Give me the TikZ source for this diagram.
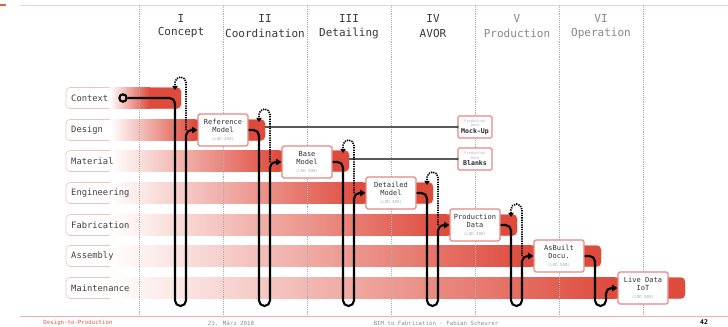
\documentclass[tikz,border=0pt]{standalone}
\usepackage{fontspec}
\setmainfont{DejaVu Sans Mono}
\setmonofont{DejaVu Sans Mono}
\usetikzlibrary{arrows.meta,calc}
\definecolor{barred}{RGB}{222,74,60}
\definecolor{rowborder}{RGB}{241,196,196}
\definecolor{boxborder}{RGB}{230,135,130}
\definecolor{hdrdark}{RGB}{55,55,55}
\definecolor{hdrlight}{RGB}{135,135,135}
\definecolor{lodgray}{RGB}{175,175,175}
\definecolor{colgray}{RGB}{175,175,175}
\definecolor{topline}{RGB}{244,205,215}
\definecolor{footred}{RGB}{225,85,75}
\definecolor{footgray}{RGB}{140,140,140}
\newcommand{\rowbar}[5]{%
  \draw[rowborder, line width=0.6pt, fill=white, rounded corners=0.12cm] (66,#1-10.5) rectangle (#3,#1+10.5);
  \fill[barred, rounded corners=0.12cm] (#2-10,#1-10.5) rectangle (#3,#1+10.5);
  \fill[left color=white, right color=barred] (110,#1-10.2) rectangle (#2,#1+10.2);
  \node[rowlbl] (#5) at (71,#1) {#4};
}
\begin{document}
\begin{tikzpicture}[x=0.03cm,y=-0.03cm,
  hdr/.style={font=\fontsize{9.4}{10}\selectfont, text=hdrdark, inner sep=0pt},
  hdrl/.style={hdr, text=hdrlight},
  rowlbl/.style={font=\fontsize{7.5}{8}\selectfont, text=black!75, anchor=west, inner sep=0pt},
  colline/.style={colgray, line width=0.6pt, dash pattern=on 0.8pt off 0.8pt},
  stagebox/.style={draw=boxborder, line width=1.1pt, fill=white, rounded corners=1.5pt,
    minimum width=1.5cm, minimum height=0.96cm, inner sep=0pt, align=center,
    font=\fontsize{6}{6.8}\selectfont, text=black!80},
  smallbox/.style={draw=boxborder, line width=1pt, fill=white, rounded corners=1.2pt,
    minimum width=1.02cm, minimum height=0.66cm, inner sep=0pt, align=center,
    font=\fontsize{3}{3.6}\selectfont, text=lodgray},
  flow/.style={draw=black, line width=1.8pt, rounded corners=0.165cm,
    -{Triangle[length=4.5pt,width=5.5pt]}},
  fback/.style={draw=black, line width=1.4pt, rounded corners=0.165cm,
    dash pattern=on 1.1pt off 0.9pt, -{Triangle[length=3.5pt,width=4.5pt]}},
  infoline/.style={draw=black!65, line width=0.9pt},
  foot/.style={font=\fontsize{4.9}{5}\selectfont, inner sep=0pt}
]
\useasboundingbox (0,0) rectangle (728,326);
% frame lines
\draw[topline, line width=0.8pt] (20,5) -- (728,5);
\draw[footred!80!orange, line width=1.2pt] (0,5) -- (6,5);
\draw[rowborder!90!red, line width=0.8pt] (20,316) -- (728,316);
% headers
\node[hdr] (h1a) at (181,18) {I};
\node[hdr] (h1b) at (181,33) {Concept};
\node[hdr] (h2a) at (265,18) {II};
\node[hdr] (h2b) at (265,33) {Coordination};
\node[hdr] (h3a) at (349,18) {III};
\node[hdr] (h3b) at (349,33) {Detailing};
\node[hdr] (h4a) at (433,18) {IV};
\node[hdr] (h4b) at (433,33) {AVOR};
\node[hdrl] (h5a) at (517,18) {V};
\node[hdrl] (h5b) at (517,33) {Production};
\node[hdrl] (h6a) at (601,18) {VI};
\node[hdrl] (h6b) at (601,33) {Operation};
% row bars
\rowbar{98}{150}{181}{Context}{lctx}
\rowbar{130}{195}{265}{Design}{ldes}
\rowbar{161}{279}{349}{Material}{lmat}
\rowbar{193}{363}{433}{Engineering}{leng}
\rowbar{225}{447}{517}{Fabrication}{lfab}
\rowbar{256}{531}{601}{Assembly}{lass}
\rowbar{288}{615}{685}{Maintenance}{lmai}
% column lines
\foreach \cx in {139,223,307,391,475,559,643}
  \draw[colline] (\cx,5) -- (\cx,316);
% side boxes
\node[smallbox] (mock) at (475,127) {Production\\Data\\[0.4pt]{\fontsize{5.6}{6}\selectfont\bfseries\color{black!85}Mock-Up}};
\node[smallbox] (blank) at (475,159) {Production\\Data\\[0.4pt]{\fontsize{5.6}{6}\selectfont\bfseries\color{black!85}Blanks}};
\coordinate (desEnd) at (265,130);
\coordinate (matEnd) at (349,161);
\draw[infoline] (desEnd |- mock.west) -- (mock.west);
\fill[black!70] (mock.west) circle (1.4);
\draw[infoline] (matEnd |- blank.west) -- (blank.west);
\fill[black!70] (blank.west) circle (1.4);
% stage boxes
\node[stagebox] (ref) at (223,130) {Reference\\Model\\{\fontsize{3.5}{4}\selectfont\color{lodgray}(LOD 200)}};
\node[stagebox] (base) at (307,162) {Base\\Model\\{\fontsize{3.5}{4}\selectfont\color{lodgray}(LOD 300)}};
\node[stagebox] (det) at (391,193) {Detailed\\Model\\{\fontsize{3.5}{4}\selectfont\color{lodgray}(LOD 400)}};
\node[stagebox] (prod) at (475,225) {Production\\Data\\{\fontsize{3.5}{4}\selectfont\color{lodgray}(LOD 400)}};
\node[stagebox] (asb) at (559,256) {AsBuilt\\Docu.\\{\fontsize{3.5}{4}\selectfont\color{lodgray}(LOD 500)}};
\node[stagebox] (live) at (643,288) {Live Data\\IoT\\{\fontsize{3.5}{4}\selectfont\color{lodgray}(LOD 500)}};
% start circle
\node[circle, draw=black, line width=1.8pt, inner sep=0pt, minimum size=0.22cm] (ctx) at (123,98) {};
% feedback loops
\draw[fback] (186,130) -- (186,77) -- (175,77) -- (175,90);
\draw[fback] (270,162) -- (270,109) -- (259,109) -- (259,122);
\draw[fback] (354,193) -- (354,140) -- (343,140) -- (343,153);
\draw[fback] (438,225) -- (438,172) -- (427,172) -- (427,185);
\draw[fback] (522,256) -- (522,204) -- (511,204) -- (511,217);
% main flow
\draw[flow] (ctx.east) -- (175,98) -- (175,306) -- (186,306) -- (186,130) -- (ref.west);
\draw[flow] (ref.east) -- (259,130) -- (259,306) -- (270,306) -- (270,162) -- (base.west);
\draw[flow] (base.east) -- (343,162) -- (343,306) -- (354,306) -- (354,193) -- (det.west);
\draw[flow] (det.east) -- (427,193) -- (427,306) -- (438,306) -- (438,225) -- (prod.west);
\draw[flow] (prod.east) -- (511,225) -- (511,306) -- (522,306) -- (522,256) -- (asb.west);
\draw[flow] (asb.east) -- (595,256) -- (595,306) -- (606,306) -- (606,288) -- (live.west);
% footer
\node[foot, text=footred] (f1) at (78,323) {Design-to-Production};
\node[foot, text=footgray] (f2) at (231,323) {21. März 2018};
\node[foot, text=footgray] (f3) at (436,323) {BIM to Fabrication - Fabian Scheurer};
\node[foot, font=\fontsize{5.5}{6}\selectfont\bfseries] (f4) at (704,322) {42};
\end{tikzpicture}
\end{document}
